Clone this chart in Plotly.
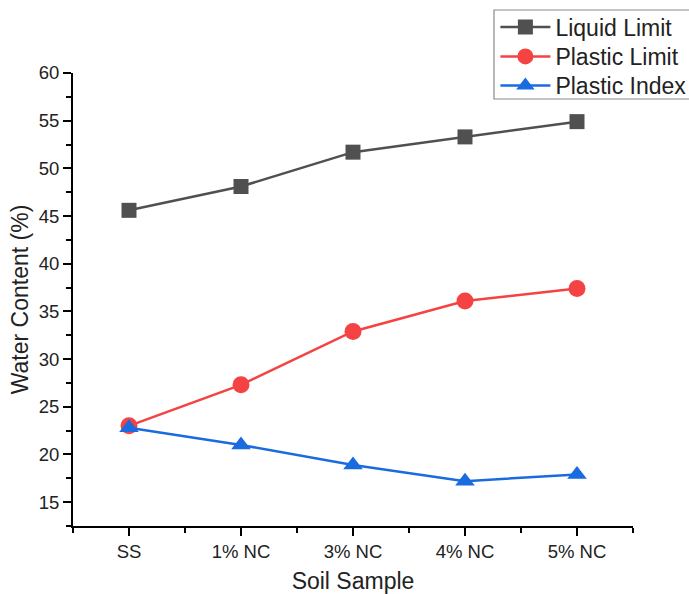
import plotly.graph_objects as go

categories = ["SS", "1% NC", "3% NC", "4% NC", "5% NC"]
liquid_limit = [45.6, 48.1, 51.7, 53.3, 54.9]
plastic_limit = [23.0, 27.3, 32.9, 36.1, 37.4]
plastic_index = [22.8, 21.0, 18.9, 17.2, 17.9]
series_names = ["Liquid Limit", "Plastic Limit", "Plastic Index"]

xpos = list(range(len(categories)))

TXT = "#222222"
FONT = "Liberation Sans, Arial, sans-serif"

fig = go.Figure()
fig.add_trace(go.Scatter(x=xpos, y=liquid_limit, name=series_names[0], mode="lines+markers",
                         line=dict(color="#505050", width=2.5),
                         marker=dict(symbol="square", size=15, color="#505050"),
                         legend="legend"))
fig.add_trace(go.Scatter(x=xpos, y=plastic_limit, name=series_names[1], mode="lines+markers",
                         line=dict(color="#f54242", width=2.5),
                         marker=dict(symbol="circle", size=17, color="#f54242"),
                         legend="legend2"))
fig.add_trace(go.Scatter(x=xpos, y=plastic_index, name=series_names[2], mode="lines+markers",
                         line=dict(color="#1a6be0", width=2.5),
                         marker=dict(symbol="triangle-up", size=17, color="#1a6be0"),
                         legend="legend3"))

leg_common = dict(xref="container", yref="container", x=0.719,
                  xanchor="left", yanchor="middle",
                  borderwidth=0, bgcolor="rgba(0,0,0,0)",
                  font=dict(size=23, color=TXT, family=FONT),
                  itemwidth=50)

fig.update_layout(
    width=689, height=594,
    margin=dict(l=73, r=56, t=73, b=68, autoexpand=False),
    paper_bgcolor="white", plot_bgcolor="white",
    font=dict(family=FONT, color=TXT, size=18.5),
    showlegend=True,
    legend=dict(leg_common, y=1 - 27 / 594),
    legend2=dict(leg_common, y=1 - 56.5 / 594),
    legend3=dict(leg_common, y=1 - 85.5 / 594),
    shapes=[dict(type="rect", xref="paper", yref="paper",
                 x0=(494 - 73) / 560, x1=1.2,
                 y0=(594 - 68 - 99) / 453, y1=(594 - 68 - 10) / 453,
                 line=dict(color="#8a8a8a", width=1.2), fillcolor="white", layer="above")],
)
fig.update_xaxes(
    range=[-0.5, 4.5], tickmode="array", tickvals=xpos, ticktext=categories,
    showgrid=False, zeroline=False, showline=True, linecolor="black", linewidth=2,
    ticks="outside", ticklen=8, tickwidth=2, tickcolor="black",
    tickfont=dict(size=18.5, color=TXT),
    minor=dict(tickmode="linear", tick0=-0.5, dtick=1, ticks="outside", ticklen=5,
               tickwidth=2, tickcolor="black", showgrid=False),
    title=dict(text="Soil Sample", font=dict(size=23, color=TXT), standoff=17),
    automargin=False,
)
fig.update_yaxes(
    range=[12.5, 60], tickmode="linear", tick0=15, dtick=5,
    showgrid=False, zeroline=False, showline=True, linecolor="black", linewidth=2,
    ticks="outside", ticklen=8, tickwidth=2, tickcolor="black",
    tickfont=dict(size=18.5, color=TXT),
    minor=dict(tickmode="linear", tick0=12.5, dtick=5, ticks="outside", ticklen=5,
               tickwidth=2, tickcolor="black", showgrid=False),
    title=dict(text="Water Content (%)", font=dict(size=23, color=TXT), standoff=4),
    automargin=False,
)

fig.write_html("out.html")
